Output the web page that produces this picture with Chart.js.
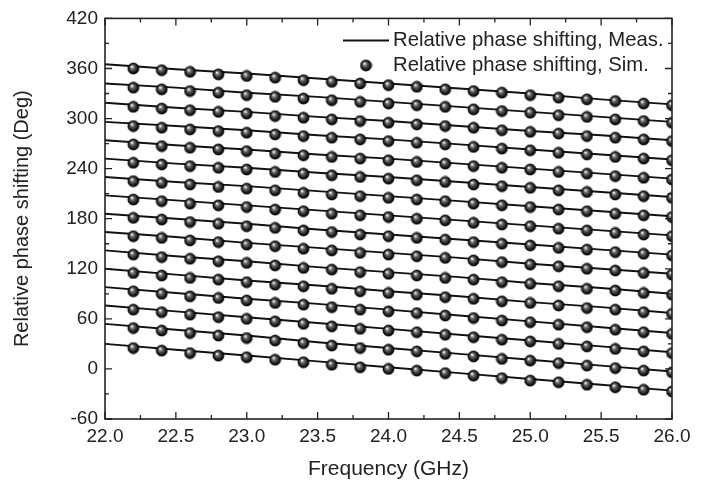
<!DOCTYPE html>
<html>
<head>
<meta charset="utf-8">
<script src="https://cdn.jsdelivr.net/npm/chart.js@4"></script>
<style>
  html, body { margin: 0; padding: 0; background: #fff; }
  #wrap { width: 704px; height: 485px; }
</style>
</head>
<body>
<div id="wrap"><canvas id="phaseChart"></canvas></div>
<script>
// --- data ---
const measFreq = [22.0, 22.5, 23.0, 23.5, 24.0, 24.5, 25.0, 25.5, 26.0];
const measPhase = [
    [365, 359, 354, 348, 342, 336, 330, 323, 317],
    [342, 337, 331, 326, 320, 314, 308, 302, 296],
    [319, 313, 308, 302, 297, 291, 285, 280, 274],
    [296, 291, 286, 280, 275, 269, 263, 257, 251],
    [274, 268, 263, 257, 252, 246, 240, 234, 228],
    [252, 246, 241, 235, 230, 224, 218, 212, 206],
    [230, 224, 219, 213, 207, 201, 195, 189, 183],
    [208, 202, 196, 190, 184, 178, 172, 166, 160],
    [186, 180, 174, 167, 161, 155, 149, 143, 137],
    [164, 158, 151, 145, 139, 133, 126, 120, 114],
    [142, 135, 129, 122, 116, 110, 103, 97, 90],
    [120, 113, 106, 100, 93, 87, 80, 74, 67],
    [98, 91, 84, 78, 71, 64, 57, 50, 43],
    [76, 69, 62, 55, 48, 41, 34, 27, 20],
    [54, 47, 40, 32, 25, 18, 11, 4, -3],
    [30, 23, 16, 9, 2, -5, -12, -19, -26]
];

const simFreq = [22.2, 22.4, 22.6, 22.8, 23.0, 23.2, 23.4, 23.6, 23.8, 24.0,
                 24.2, 24.4, 24.6, 24.8, 25.0, 25.2, 25.4, 25.6, 25.8, 26.0];
const simPhase = [
    [360, 358, 356, 353, 351, 349, 346, 344, 342, 340, 338, 335, 333, 331, 328, 325, 323, 321, 318, 316],
    [337, 335, 333, 331, 328, 326, 324, 322, 320, 318, 316, 314, 311, 309, 307, 304, 302, 299, 297, 295],
    [314, 312, 310, 308, 306, 303, 301, 299, 297, 295, 293, 291, 289, 286, 284, 282, 279, 277, 275, 273],
    [291, 289, 287, 285, 283, 281, 279, 277, 275, 273, 271, 269, 266, 264, 262, 259, 257, 254, 252, 250],
    [269, 267, 265, 263, 261, 258, 256, 254, 252, 250, 248, 246, 243, 241, 239, 236, 234, 231, 229, 227],
    [247, 245, 243, 241, 239, 236, 234, 232, 230, 228, 226, 224, 221, 219, 217, 214, 212, 209, 207, 205],
    [225, 223, 221, 218, 216, 214, 211, 209, 207, 205, 203, 201, 198, 196, 194, 191, 189, 186, 184, 182],
    [203, 201, 198, 196, 194, 191, 189, 186, 184, 182, 180, 178, 175, 173, 171, 168, 166, 163, 161, 159],
    [181, 179, 176, 174, 171, 169, 166, 164, 161, 159, 157, 155, 152, 150, 148, 145, 143, 140, 138, 136],
    [159, 157, 154, 152, 149, 147, 144, 142, 139, 137, 135, 133, 130, 128, 125, 123, 120, 118, 115, 113],
    [137, 134, 132, 129, 127, 124, 121, 119, 116, 114, 112, 109, 107, 104, 102, 99, 96, 94, 91, 89],
    [115, 112, 109, 107, 104, 101, 99, 96, 93, 91, 89, 86, 84, 81, 79, 76, 73, 71, 68, 66],
    [93, 90, 87, 85, 82, 79, 77, 74, 71, 69, 67, 64, 61, 58, 56, 53, 50, 47, 44, 42],
    [71, 68, 65, 62, 60, 57, 54, 51, 48, 46, 44, 41, 38, 35, 33, 30, 27, 24, 21, 19],
    [49, 46, 43, 40, 37, 34, 31, 28, 25, 23, 21, 18, 15, 12, 10, 7, 4, 1, -2, -4],
    [25, 22, 19, 16, 14, 11, 8, 5, 2, 0, -2, -5, -8, -11, -14, -16, -19, -22, -25, -27]
];

const xMin = 22.0, xMax = 26.0, xMajor = 0.5, xMinor = 0.25;
const yMin = -60, yMax = 420, yMajor = 60, yMinor = 30;
const legendLabels = ['Relative phase shifting, Meas.', 'Relative phase shifting, Sim.'];
const FONT = "'Liberation Sans', Arial, sans-serif";

// --- shaded ball used for the simulated points ---
function makeBall(r) {
    const c = document.createElement('canvas');
    const s = Math.ceil(r * 2 + 2);
    c.width = s; c.height = s;
    const g = c.getContext('2d');
    const cx = s / 2, cy = s / 2;
    const grad = g.createRadialGradient(cx - r * 0.3, cy - r * 0.35, 0.3, cx, cy, r);
    grad.addColorStop(0, '#ffffff');
    grad.addColorStop(0.3, '#707070');
    grad.addColorStop(0.75, '#1e1e1e');
    grad.addColorStop(1, '#000');
    g.beginPath();
    g.arc(cx, cy, r, 0, Math.PI * 2);
    g.fillStyle = grad;
    g.fill();
    g.lineWidth = 0.8;
    g.strokeStyle = '#000';
    g.stroke();
    return c;
}
const ball = makeBall(5.5);

// --- datasets ---
const datasets = [];
measPhase.forEach((row, i) => {
    datasets.push({
        label: 'meas' + i,
        data: measFreq.map((f, k) => ({ x: f, y: row[k] })),
        borderColor: '#111',
        borderWidth: 1.9,
        pointRadius: 0,
        tension: 0,
        order: 2
    });
});
simPhase.forEach((row, i) => {
    datasets.push({
        label: 'sim' + i,
        data: simFreq.map((f, k) => ({ x: f, y: row[k] })),
        showLine: false,
        pointStyle: ball,
        pointRadius: 5.5,
        order: 1
    });
});

// --- frame, inward ticks, legend ---
const framePlugin = {
    id: 'frame',
    afterDatasetsDraw(chart) {
        const { ctx, chartArea: a, scales } = chart;
        const xs = scales.x, ys = scales.y;
        ctx.save();
        ctx.strokeStyle = '#222';
        ctx.lineWidth = 1.6;
        ctx.strokeRect(a.left, a.top, a.right - a.left, a.bottom - a.top);

        ctx.lineWidth = 1.3;
        ctx.beginPath();
        for (let v = xMin; v <= xMax + 1e-9; v += xMinor) {
            const px = xs.getPixelForValue(v);
            const len = Math.abs(v / xMajor - Math.round(v / xMajor)) < 1e-6 ? 7 : 4;
            ctx.moveTo(px, a.bottom); ctx.lineTo(px, a.bottom - len);
            ctx.moveTo(px, a.top); ctx.lineTo(px, a.top + len);
        }
        for (let v = yMin; v <= yMax; v += yMinor) {
            const py = ys.getPixelForValue(v);
            const len = v % yMajor === 0 ? 7 : 4;
            ctx.moveTo(a.left, py); ctx.lineTo(a.left + len, py);
            ctx.moveTo(a.right, py); ctx.lineTo(a.right - len, py);
        }
        ctx.stroke();

        // legend, top right inside plot
        const lx = a.left + 238, ly = a.top + 22;
        ctx.lineWidth = 2;
        ctx.strokeStyle = '#111';
        ctx.beginPath();
        ctx.moveTo(lx, ly); ctx.lineTo(lx + 46, ly);
        ctx.stroke();
        ctx.drawImage(ball, lx + 23 - ball.width / 2, ly + 25 - ball.height / 2);
        ctx.fillStyle = '#222';
        ctx.font = '20.3px ' + FONT;
        ctx.textBaseline = 'middle';
        ctx.textAlign = 'left';
        ctx.fillText(legendLabels[0], lx + 50, ly);
        ctx.fillText(legendLabels[1], lx + 50, ly + 25);
        ctx.restore();
    }
};

new Chart(document.getElementById('phaseChart').getContext('2d'), {
    type: 'line',
    data: { datasets: datasets },
    options: {
        responsive: true,
        maintainAspectRatio: false,
        animation: false,
        layout: { padding: { top: 18, right: 32, left: 10, bottom: 0 } },
        plugins: { legend: { display: false }, tooltip: { enabled: false } },
        scales: {
            x: {
                type: 'linear',
                min: xMin, max: xMax,
                grid: { display: false, tickLength: 0 },
                border: { display: false },
                ticks: {
                    stepSize: xMajor,
                    padding: 6,
                    color: '#222',
                    font: { family: FONT, size: 19 },
                    maxRotation: 0,
                    callback: v => v.toFixed(1)
                },
                title: {
                    display: true,
                    text: 'Frequency (GHz)',
                    color: '#222',
                    font: { family: FONT, size: 21 },
                    padding: { top: 8, bottom: 3 }
                },
                afterFit: s => { s.height = 66; }
            },
            y: {
                min: yMin, max: yMax,
                grid: { display: false, tickLength: 0 },
                border: { display: false },
                ticks: {
                    stepSize: yMajor,
                    padding: 7,
                    color: '#222',
                    font: { family: FONT, size: 19 }
                },
                title: {
                    display: true,
                    text: 'Relative phase shifting (Deg)',
                    color: '#222',
                    font: { family: FONT, size: 20 },
                    padding: { top: 0, bottom: 4 }
                },
                afterFit: s => { s.width = 95; }
            }
        }
    },
    plugins: [framePlugin]
});
</script>
</body>
</html>
